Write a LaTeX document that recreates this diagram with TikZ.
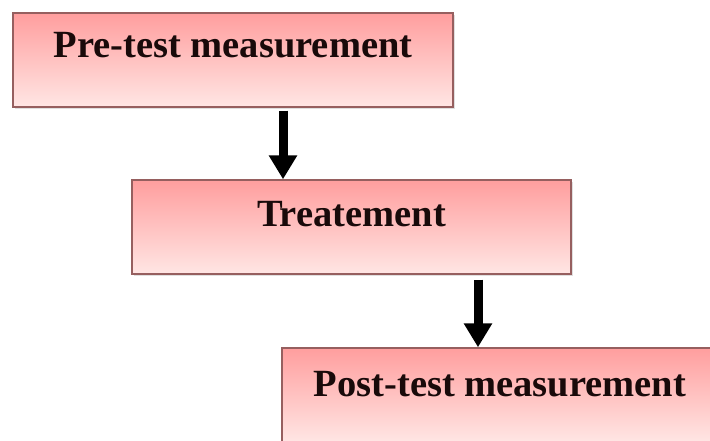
\documentclass[tikz,border=0pt]{standalone}
\usepackage{fontspec}
\setmainfont{Liberation Serif}
\usetikzlibrary{arrows.meta,shadows}
\definecolor{boxtop}{RGB}{255,158,158}
\definecolor{boxbot}{RGB}{255,230,228}
\definecolor{boxline}{RGB}{150,95,95}
\definecolor{txt}{RGB}{25,10,10}
\tikzset{
  stepbox/.style={rectangle, draw=boxline, line width=1.4pt,
    top color=boxtop, bottom color=boxbot, inner sep=0pt,
    font=\fontsize{38.5pt}{40pt}\selectfont\bfseries, text=txt,
    drop shadow={opacity=0.25, shadow xshift=2pt, shadow yshift=-2pt}},
  flowarrow/.style={line width=9pt, -{Triangle[width=27pt,length=24pt]}, black}
}
\begin{document}
\begin{tikzpicture}[x=1pt,y=-1pt]
\useasboundingbox (0,0) rectangle (710,441);
\clip (0,0) rectangle (710,441);
\fill[white] (0,0) rectangle (710,441);
\node[stepbox, minimum width=440pt, text height=45pt, text depth=49pt] (b1) at (233,60) {Pre-test measurement};
\node[stepbox, minimum width=439pt, text height=46pt, text depth=48pt] (b2) at (351.5,227) {Treatement};
\node[stepbox, minimum width=436pt, text height=48pt, text depth=46pt] (b3) at (500,395) {Post-test measurement};
\coordinate (c1) at (283,0);
\coordinate (c2) at (478,0);
\draw[flowarrow] ([yshift=-3pt]b1.south -| c1) -- (b2.north -| c1);
\draw[flowarrow] ([yshift=-5pt]b2.south -| c2) -- (b3.north -| c2);
\end{tikzpicture}
\end{document}
